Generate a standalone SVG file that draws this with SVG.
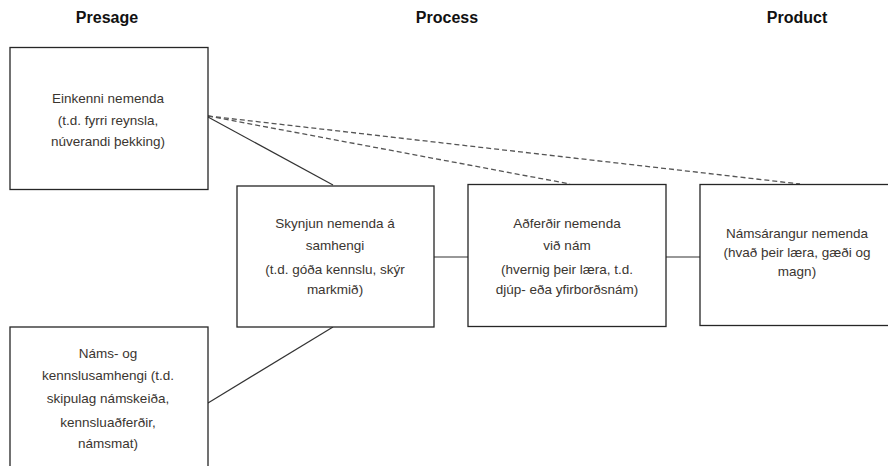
<svg xmlns="http://www.w3.org/2000/svg" width="888" height="466" viewBox="0 0 888 466">
<style>
.box{fill:#fff;stroke:#262626;stroke-width:1.3}
.h{font-family:"Liberation Sans",Arial,sans-serif;font-weight:bold;font-size:16px;fill:#111;text-anchor:middle}
.t{font-family:"Liberation Sans",Arial,sans-serif;font-size:13.5px;fill:#3a3530;text-anchor:middle}
.c{stroke:#333;stroke-width:1.2;fill:none}
.d{stroke:#555;stroke-width:1.3;fill:none;stroke-dasharray:5,3}
</style>
<rect width="888" height="466" fill="#fff"/>
<g id="headers">
<text class="h" x="107" y="23">Presage</text>
<text class="h" x="447" y="23">Process</text>
<text class="h" x="797" y="23">Product</text>
</g>
<g id="connectors">
<line class="c" x1="208" y1="117" x2="333" y2="185"/>
<line class="c" x1="208" y1="403" x2="333" y2="327"/>
<line class="c" x1="434" y1="257" x2="468" y2="257"/>
<line class="c" x1="666" y1="257" x2="700" y2="257"/>
<line class="d" x1="208" y1="116" x2="570" y2="184"/>
<line class="d" x1="208" y1="116" x2="800" y2="184"/>
</g>
<g id="n1">
<rect class="box" x="10" y="47.5" width="198" height="142"/>
<text class="t" x="108" y="103">Einkenni nemenda</text>
<text class="t" x="108" y="125">(t.d. fyrri reynsla,</text>
<text class="t" x="108" y="146">núverandi þekking)</text>
</g>
<g id="n2">
<rect class="box" x="10" y="327" width="198" height="150"/>
<text class="t" x="108" y="358">Náms- og</text>
<text class="t" x="108" y="380">kennslusamhengi (t.d.</text>
<text class="t" x="108" y="403">skipulag námskeiða,</text>
<text class="t" x="108" y="427">kennsluaðferðir,</text>
<text class="t" x="108" y="448">námsmat)</text>
</g>
<g id="n3">
<rect class="box" x="237" y="186" width="197" height="141"/>
<text class="t" x="335" y="228">Skynjun nemenda á</text>
<text class="t" x="335" y="250">samhengi</text>
<text class="t" x="335" y="274">(t.d. góða kennslu, skýr</text>
<text class="t" x="335" y="294">markmið)</text>
</g>
<g id="n4">
<rect class="box" x="468" y="184.5" width="198" height="142"/>
<text class="t" x="567" y="228">Aðferðir nemenda</text>
<text class="t" x="567" y="250">við nám</text>
<text class="t" x="567" y="274">(hvernig þeir læra, t.d.</text>
<text class="t" x="567" y="294">djúp- eða yfirborðsnám)</text>
</g>
<g id="n5">
<rect class="box" x="700" y="184.5" width="200" height="141"/>
<text class="t" x="797" y="238">Námsárangur  nemenda</text>
<text class="t" x="797" y="257">(hvað þeir læra, gæði og</text>
<text class="t" x="797" y="276">magn)</text>
</g>
</svg>
